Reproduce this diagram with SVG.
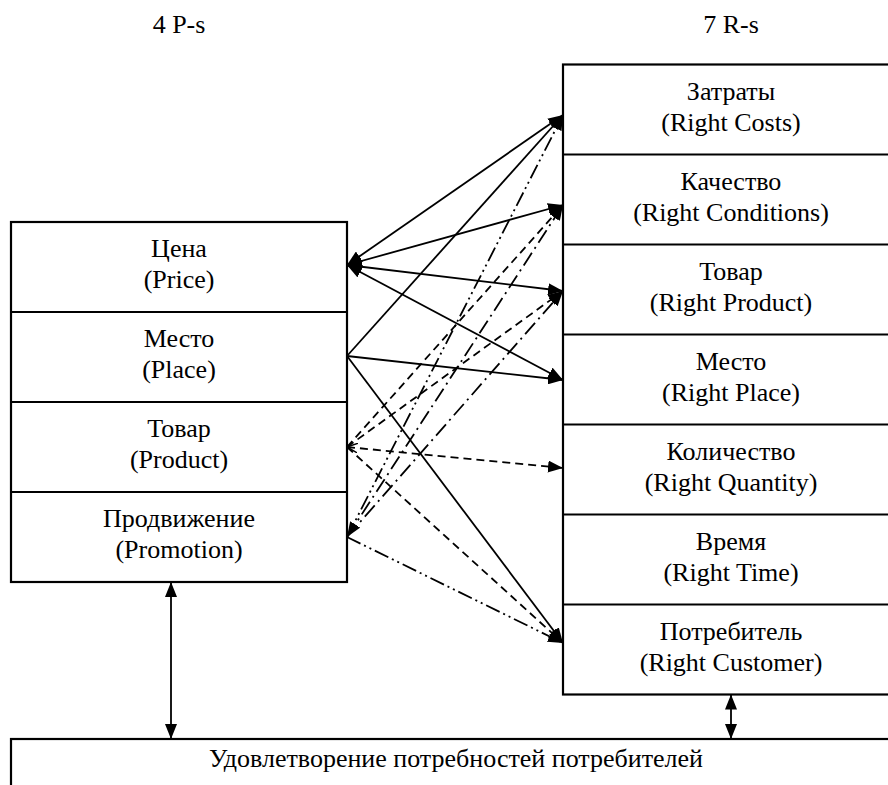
<svg xmlns="http://www.w3.org/2000/svg" width="888" height="785" viewBox="0 0 888 785">
<style>
text{font-family:"Liberation Serif","Times New Roman",serif;font-size:26px;fill:#000;text-anchor:middle}
.box{fill:#fff;stroke:#000;stroke-width:2.2}
.div{stroke:#000;stroke-width:2.2}
.c{fill:none;stroke:#000;stroke-width:1.8}
.dash{stroke-dasharray:8 5}
.dd{stroke-dasharray:15 5 2 5}
.ddd{stroke-dasharray:15 4 2 4 2 4}
</style>
<defs>
<marker id="ah" markerUnits="userSpaceOnUse" markerWidth="15" markerHeight="12" refX="15" refY="6" orient="auto-start-reverse"><path d="M0,0 L15,6 L0,12 z" fill="#000"/></marker>
<marker id="oh" markerUnits="userSpaceOnUse" markerWidth="12" markerHeight="10" refX="11" refY="5" orient="auto-start-reverse"><path d="M0,0 L11,5 L0,10" fill="none" stroke="#000" stroke-width="1.5"/></marker>
</defs>
<text x="179" y="33">4 P-s</text>
<text x="731" y="33">7 R-s</text>
<g id="left">
<rect class="box" x="11" y="222" width="336" height="360"/>
<line class="div" x1="11" y1="312" x2="347" y2="312"/>
<line class="div" x1="11" y1="402" x2="347" y2="402"/>
<line class="div" x1="11" y1="492" x2="347" y2="492"/>
</g>
<g id="price"><text x="179" y="257">Цена</text><text x="179" y="288">(Price)</text></g>
<g id="place"><text x="179" y="347">Место</text><text x="179" y="378">(Place)</text></g>
<g id="product"><text x="179" y="437">Товар</text><text x="179" y="468">(Product)</text></g>
<g id="promotion"><text x="179" y="527">Продвижение</text><text x="179" y="558">(Promotion)</text></g>
<g id="right">
<rect class="box" x="563" y="64.5" width="340" height="630"/>
<line class="div" x1="563" y1="154.5" x2="903" y2="154.5"/>
<line class="div" x1="563" y1="244.5" x2="903" y2="244.5"/>
<line class="div" x1="563" y1="334.5" x2="903" y2="334.5"/>
<line class="div" x1="563" y1="424.5" x2="903" y2="424.5"/>
<line class="div" x1="563" y1="514.5" x2="903" y2="514.5"/>
<line class="div" x1="563" y1="604.5" x2="903" y2="604.5"/>
</g>
<g id="costs"><text x="731" y="100">Затраты</text><text x="731" y="131">(Right Costs)</text></g>
<g id="conditions"><text x="731" y="190">Качество</text><text x="731" y="221">(Right Conditions)</text></g>
<g id="rproduct"><text x="731" y="280">Товар</text><text x="731" y="311">(Right Product)</text></g>
<g id="rplace"><text x="731" y="370">Место</text><text x="731" y="401">(Right Place)</text></g>
<g id="quantity"><text x="731" y="460">Количество</text><text x="731" y="491">(Right Quantity)</text></g>
<g id="time"><text x="731" y="550">Время</text><text x="731" y="581">(Right Time)</text></g>
<g id="customer"><text x="731" y="640">Потребитель</text><text x="731" y="671">(Right Customer)</text></g>
<g id="bottom">
<rect class="box" x="11" y="739" width="892" height="60"/>
<text x="456" y="767">Удовлетворение потребностей потребителей</text>
</g>
<g id="connectors">
<line class="c" x1="347" y1="265" x2="563" y2="115" marker-start="url(#ah)" marker-end="url(#ah)"/>
<line class="c" x1="347" y1="265" x2="563" y2="205" marker-start="url(#ah)" marker-end="url(#ah)"/>
<line class="c" x1="347" y1="265" x2="563" y2="291" marker-start="url(#ah)" marker-end="url(#ah)"/>
<line class="c" x1="347" y1="265" x2="563" y2="380" marker-start="url(#ah)" marker-end="url(#ah)"/>
<line class="c" x1="347" y1="356" x2="563" y2="115" marker-end="url(#ah)"/>
<line class="c" x1="347" y1="356" x2="563" y2="380" marker-end="url(#ah)"/>
<line class="c" x1="347" y1="356" x2="563" y2="643" marker-end="url(#ah)"/>
<line class="c dash" x1="347" y1="447" x2="563" y2="205" marker-end="url(#ah)"/>
<line class="c dash" x1="347" y1="447" x2="563" y2="291" marker-end="url(#ah)"/>
<line class="c dash" x1="347" y1="447" x2="563" y2="468" marker-start="url(#oh)" marker-end="url(#ah)"/>
<line class="c dash" x1="347" y1="447" x2="563" y2="643" marker-end="url(#ah)"/>
<line class="c ddd" x1="347" y1="537" x2="563" y2="115" marker-end="url(#ah)"/>
<line class="c dd" x1="347" y1="537" x2="563" y2="205" marker-start="url(#ah)" marker-end="url(#ah)"/>
<line class="c dd" x1="347" y1="537" x2="563" y2="291" marker-end="url(#ah)"/>
<line class="c ddd" x1="347" y1="537" x2="563" y2="643" marker-end="url(#ah)"/>
<line class="c" x1="171" y1="582" x2="171" y2="739" marker-start="url(#ah)" marker-end="url(#ah)"/>
<line class="c" x1="731" y1="694.5" x2="731" y2="739" marker-start="url(#ah)" marker-end="url(#ah)"/>
</g>
</svg>
